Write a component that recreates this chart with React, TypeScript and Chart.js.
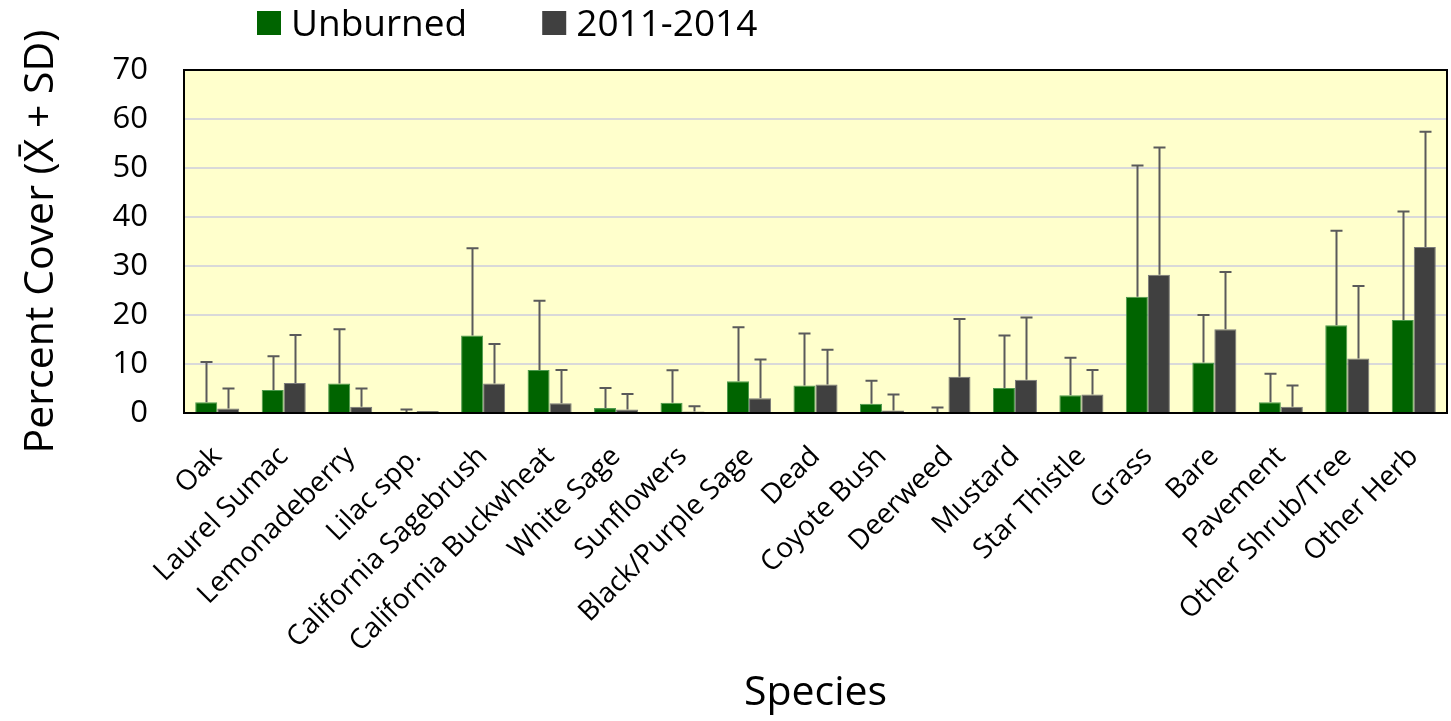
import React, { useEffect, useRef } from "react";
import { Chart, registerables } from "chart.js";

Chart.register(...registerables);

const categories = [
  "Oak",
  "Laurel Sumac",
  "Lemonadeberry",
  "Lilac spp.",
  "California Sagebrush",
  "California Buckwheat",
  "White Sage",
  "Sunflowers",
  "Black/Purple Sage",
  "Dead",
  "Coyote Bush",
  "Deerweed",
  "Mustard",
  "Star Thistle",
  "Grass",
  "Bare",
  "Pavement",
  "Other Shrub/Tree",
  "Other Herb",
];

const unburnedMean = [2.2, 4.7, 6.0, 0.1, 15.8, 8.8, 1.0, 2.1, 6.5, 5.6, 1.9, 0.2, 5.1, 3.6, 23.7, 10.3, 2.2, 17.9, 19.0];
const unburnedSD = [8.2, 6.9, 11.1, 0.6, 17.8, 14.1, 4.1, 6.6, 11.0, 10.6, 4.7, 0.9, 10.7, 7.7, 26.8, 9.7, 5.8, 19.3, 22.1];
const burnedMean = [0.9, 6.1, 1.3, 0.4, 6.0, 2.0, 0.7, 0.3, 3.0, 5.8, 0.5, 7.4, 6.8, 3.8, 28.2, 17.1, 1.3, 11.1, 33.9];
const burnedSD = [4.1, 9.8, 3.7, 0, 8.1, 6.8, 3.2, 1.1, 7.9, 7.1, 3.3, 11.8, 12.7, 5.0, 26.0, 11.7, 4.3, 14.8, 23.5];

const seriesLabels = ["Unburned", "2011-2014"];
const seriesColors = ["#006400", "#404040"];
const seriesBorders = ["#4f9a4f", "#7a7a7a"];

const yMin = 0;
const yMax = 70;
const yStep = 10;

const FONT = "'Open Sans', sans-serif";

const plotBackground = {
  id: "plotBackground",
  beforeDraw(chart: any) {
    const { ctx, chartArea } = chart;
    ctx.save();
    ctx.fillStyle = "#FFFFCC";
    ctx.fillRect(chartArea.left, chartArea.top, chartArea.right - chartArea.left, chartArea.bottom - chartArea.top);
    ctx.restore();
  },
};

const errorBars = {
  id: "errorBars",
  afterDatasetsDraw(chart: any) {
    const { ctx } = chart;
    const yScale = chart.scales.y;
    ctx.save();
    ctx.strokeStyle = "#5a5a5a";
    ctx.lineWidth = 2;
    chart.data.datasets.forEach((ds: any, i: number) => {
      const meta = chart.getDatasetMeta(i);
      meta.data.forEach((bar: any, j: number) => {
        const sd = ds.errors[j];
        if (!sd) return;
        const top = yScale.getPixelForValue(ds.data[j] + sd);
        const x = Math.round(bar.x) + 0.5;
        ctx.beginPath();
        ctx.moveTo(x, bar.y);
        ctx.lineTo(x, top);
        ctx.moveTo(x - 6, top);
        ctx.lineTo(x + 6, top);
        ctx.stroke();
      });
    });
    ctx.restore();
  },
};

const plotBorder = {
  id: "plotBorder",
  afterDraw(chart: any) {
    const { ctx, chartArea } = chart;
    ctx.save();
    ctx.strokeStyle = "#000";
    ctx.lineWidth = 2;
    ctx.strokeRect(chartArea.left, chartArea.top, chartArea.right - chartArea.left, chartArea.bottom - chartArea.top);
    ctx.restore();
  },
};

const topLegend = {
  id: "topLegend",
  afterDraw(chart: any) {
    const { ctx, chartArea } = chart;
    ctx.save();
    ctx.font = `37px ${FONT}`;
    ctx.textBaseline = "middle";
    ctx.textAlign = "left";
    let x = chartArea.left + 73;
    const yMid = 23;
    const box = 24;
    chart.data.datasets.forEach((ds: any) => {
      ctx.fillStyle = ds.backgroundColor;
      ctx.fillRect(x, yMid - box / 2, box, box);
      ctx.fillStyle = "#000";
      const tx = x + box + 10;
      ctx.fillText(ds.label, tx, yMid + 2);
      x = tx + ctx.measureText(ds.label).width + 75;
    });
    ctx.restore();
  },
};

export default function App() {
  const canvasRef = useRef<HTMLCanvasElement | null>(null);

  useEffect(() => {
    if (!canvasRef.current) return;
    const chart = new Chart(canvasRef.current, {
      type: "bar",
      data: {
        labels: categories,
        datasets: [
          {
            label: seriesLabels[0],
            data: unburnedMean,
            errors: unburnedSD,
            backgroundColor: seriesColors[0],
            borderColor: seriesBorders[0],
            borderWidth: 1,
          } as any,
          {
            label: seriesLabels[1],
            data: burnedMean,
            errors: burnedSD,
            backgroundColor: seriesColors[1],
            borderColor: seriesBorders[1],
            borderWidth: 1,
          } as any,
        ],
      },
      options: {
        responsive: false,
        animation: false,
        datasets: {
          bar: {
            categoryPercentage: 0.663,
            barPercentage: 1.0,
          },
        },
        layout: {
          padding: { top: 70, right: 4, left: 0, bottom: 0 },
        },
        plugins: {
          legend: { display: false },
          tooltip: { enabled: false },
        },
        scales: {
          x: {
            grid: { display: false },
            border: { color: "#000", width: 2 },
            ticks: {
              font: { family: FONT, size: 28 },
              color: "#000",
              minRotation: 45,
              maxRotation: 45,
              autoSkip: false,
              padding: 19,
            },
            title: {
              display: true,
              text: "Species",
              color: "#000",
              font: { family: FONT, size: 41, lineHeight: 1 },
              padding: { top: 0, bottom: 7 },
            },
            afterFit(scale: any) {
              scale.height = 308;
              scale.paddingLeft = 0;
              scale.paddingRight = 0;
            },
          },
          y: {
            min: yMin,
            max: yMax,
            grid: { color: "#d9d9d9", lineWidth: 2, drawTicks: false },
            border: { color: "#000", width: 2 },
            ticks: {
              stepSize: yStep,
              font: { family: FONT, size: 31 },
              color: "#000",
              padding: 36,
            },
            title: {
              display: true,
              text: "Percent Cover (X\u0304 + SD)",
              color: "#000",
              font: { family: FONT, size: 41, lineHeight: 1 },
              padding: { top: 21, bottom: 0 },
            },
            afterFit(scale: any) {
              scale.width = 184;
              scale.paddingTop = 0;
              scale.paddingBottom = 0;
            },
          },
        },
      },
      plugins: [plotBackground, errorBars, plotBorder, topLegend],
    });
    return () => chart.destroy();
  }, []);

  return (
    <div style={{ position: "fixed", left: 0, top: 0, width: 1451, height: 721, background: "#fff" }}>
      <canvas ref={canvasRef} width={1451} height={721} />
    </div>
  );
}
